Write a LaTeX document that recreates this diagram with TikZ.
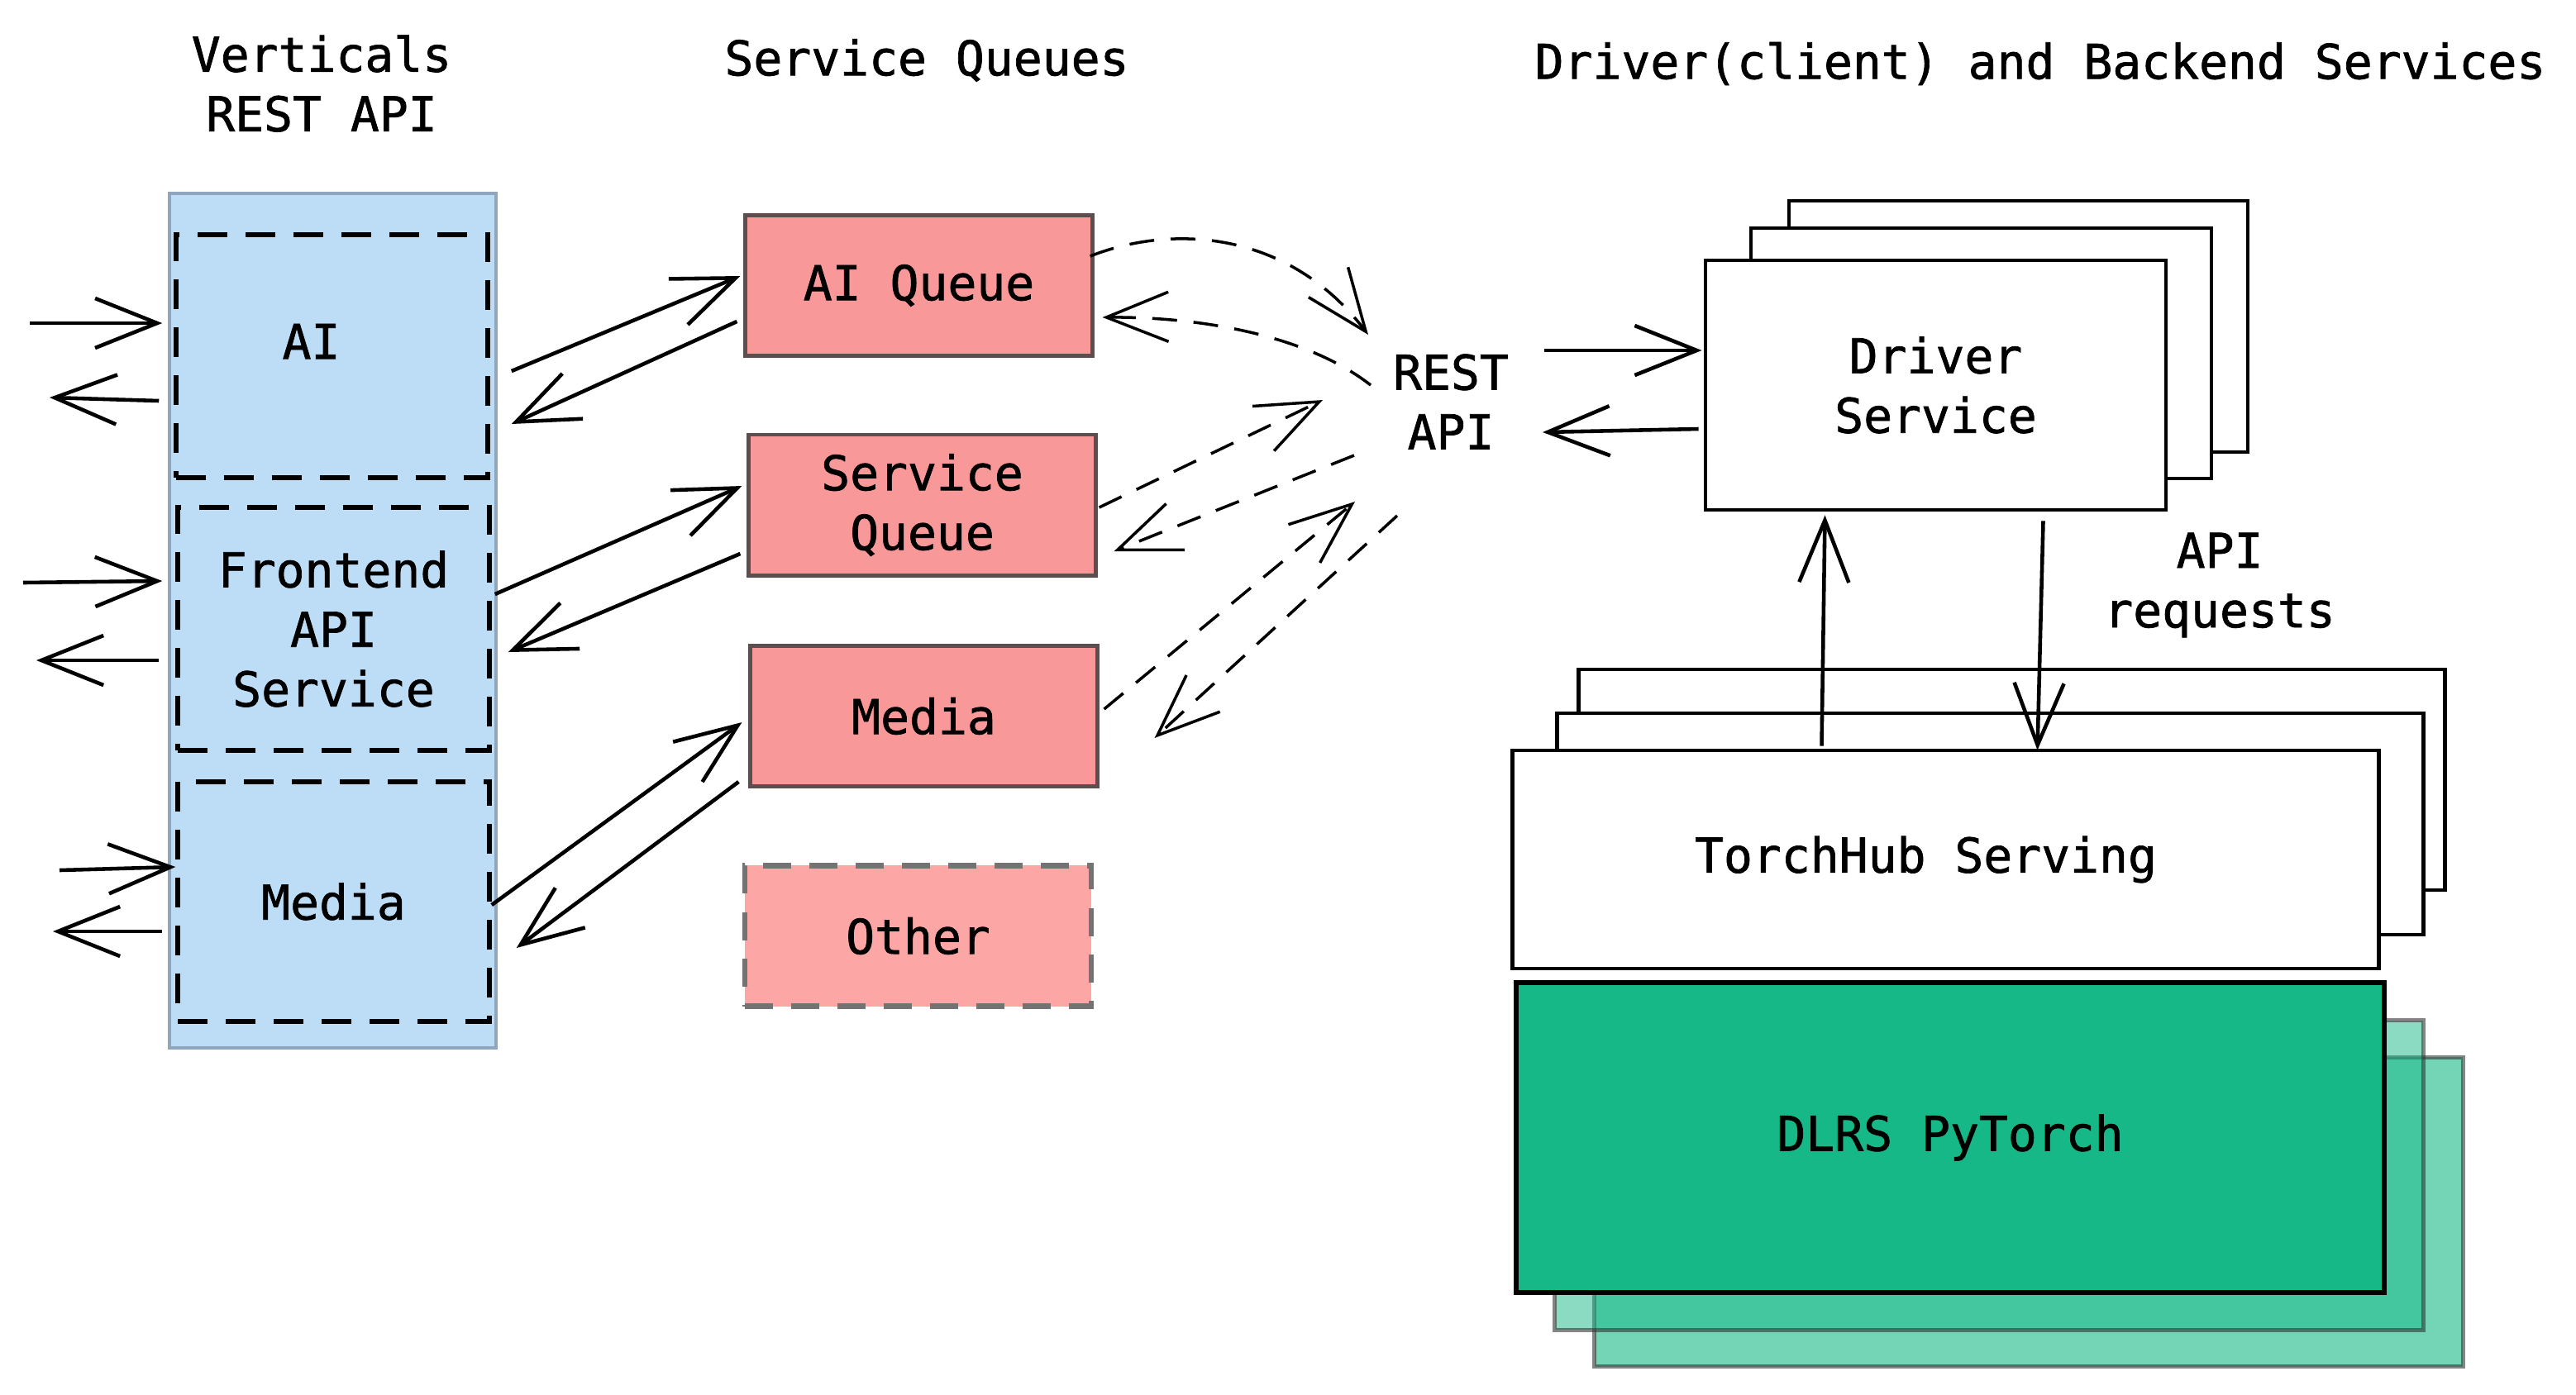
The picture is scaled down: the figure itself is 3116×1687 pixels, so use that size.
\documentclass[tikz,border=0pt]{standalone}
\usepackage{fontspec}
\setmonofont{DejaVu Sans Mono}[BoldFont={DejaVu Sans Mono}, BoldFeatures={FakeBold=1.2}]
\usetikzlibrary{arrows.meta}
\definecolor{vertblue}{HTML}{BDDCF6}
\definecolor{vertedge}{HTML}{8EA7BF}
\definecolor{queuered}{HTML}{F99898}
\definecolor{queueedge}{HTML}{5C4E4E}
\definecolor{otherred}{HTML}{FCA6A6}
\definecolor{dlrsgreen}{HTML}{15B886}
\def\Verticals{Verticals\\REST API}
\def\Queues{Service Queues}
\def\Backend{Driver(client) and Backend Services}
\def\Frontend{Frontend\\API\\Service}
\def\SvcQueue{Service\\Queue}
\def\Driver{Driver\\Service}
\def\Requests{API\\requests}
\def\Torch{TorchHub Serving\hspace*{0.48cm}}
\def\Dlrs{DLRS PyTorch}

\begin{document}
\begin{tikzpicture}[x=0.01cm, y=-0.01cm,
    every node/.style={font=\ttfamily\bfseries\fontsize{16.5}{20.5}\selectfont, align=center},
    panel/.style={draw=vertedge, fill=vertblue, line width=1.2pt, minimum width=3.95cm, minimum height=10.34cm},
    vertical/.style={draw, line width=1.5pt, dash pattern=on 0.36cm off 0.22cm, minimum width=3.77cm},
    queue/.style={draw=queueedge, fill=queuered, line width=1.4pt, minimum width=4.19cm, minimum height=1.7cm},
    other/.style={queue, draw=black!55, fill=otherred, line width=1.8pt, dash pattern=on 0.34cm off 0.22cm},
    stack/.style={draw, fill=white, line width=1.3pt},
    layer/.style={draw=black!80, fill=dlrsgreen, line width=1.4pt, minimum width=10.5cm, minimum height=3.74cm},
    barb/.style={line width=1.3pt, -{Straight Barb[length=0.75cm, width=0.6cm]}},
    rest/.style={barb, line width=1pt, dash pattern=on 0.3cm off 0.2cm}]
\useasboundingbox (0,0) rectangle (3116,1687);

\node (hvert) at (389,101) {\Verticals};
\node (hqueue) at (1121,73) {\Queues};
\node (hback) at (2468,77) {\Backend};

\node[panel] (panel) at (402.5,751) {};
\node[vertical, minimum height=2.94cm] (ai) at (401.5,431) {\raisebox{0.36cm}{AI}\hspace*{0.5cm}};
\node[vertical, minimum height=2.94cm] (fe) at (403.5,761) {\Frontend};
\node[vertical, minimum height=2.9cm] (media) at (403.5,1091) {Media};

\node[queue] (aiq) at (1111.5,345.5) {AI Queue};
\node[queue] (svq) at (1115.5,611) {\SvcQueue};
\node[queue] (mdq) at (1117.5,866.5) {Media};
\node[other] (oth) at (1110.5,1132.5) {Other};

\node (rest) at (1755,486) {REST\\API};

\coordinate (aiin) at (36,391);
\coordinate (aiout) at (60,481);
\coordinate (fein) at (28,705);
\coordinate (feout) at (44,799);
\coordinate (mdin) at (72,1053);
\coordinate (mdout) at (64,1127);
\coordinate (drvin) at (1868,424);
\coordinate (drvout) at (1866,523);

\draw[barb] (aiin) -- ([shift={(-14,-40)}]ai.west);
\draw[barb] ([shift={(-18,54)}]ai.west) -- (aiout);
\draw[barb] (fein) -- ([shift={(-16,-58)}]fe.west);
\draw[barb] ([shift={(-20,38)}]fe.west) -- (feout);
\draw[barb] (mdin) -- ([shift={(0,-42)}]media.west);
\draw[barb] ([shift={(-16,36)}]media.west) -- (mdout);

\draw[barb] ([shift={(26,18)}]ai.east) -- ([shift={(-4,-11.5)}]aiq.west);
\draw[barb] ([shift={(-8,43.5)}]aiq.west) -- ([shift={(26,82)}]ai.east);
\draw[barb] ([shift={(4,-42)}]fe.east) -- ([shift={(-6,-23)}]svq.west);
\draw[barb] ([shift={(-8,59)}]svq.west) -- ([shift={(20,28)}]fe.east);
\draw[barb] ([shift={(0,4)}]media.east) -- ([shift={(-8,7.5)}]mdq.west);
\draw[barb] ([shift={(-12,79.5)}]mdq.west) -- ([shift={(30,56)}]media.east);

\draw[rest] ([shift={(-5,-35.5)}]aiq.east) .. controls (1420,270) and (1560,280) .. ([shift={(-100,-81)}]rest.center);
\draw[rest] ([shift={(-97,-20)}]rest.center) .. controls (1580,405) and (1450,383) .. ([shift={(10,38.5)}]aiq.east);
\draw[rest] ([shift={(2,3)}]svq.east) -- ([shift={(-155,-2)}]rest.center);
\draw[rest] ([shift={(-117,65)}]rest.center) -- ([shift={(20,56)}]svq.east);
\draw[rest] ([shift={(6,-8.5)}]mdq.east) -- ([shift={(-116,121)}]rest.center);
\draw[rest] ([shift={(-65,138)}]rest.center) -- ([shift={(67,26.5)}]mdq.east);

\node[stack, minimum width=5.55cm, minimum height=3.04cm] (drv3) at (2441.5,395) {};
\node[stack, minimum width=5.57cm, minimum height=3.03cm] (drv2) at (2396.5,427.5) {};
\node[stack, minimum width=5.57cm, minimum height=3.02cm] (drv) at (2341.5,466) {\Driver};

\draw[barb] (drvin) -- ([shift={(-2,-42)}]drv.west);
\draw[barb] ([shift={(-6,53)}]drv.west) -- (drvout);

\node (req) at (2685,708) {\Requests};

\node[stack, minimum width=10.47cm, minimum height=2.67cm] (torch3) at (2433.5,943.5) {};
\node[stack, minimum width=10.47cm, minimum height=2.68cm] (torch2) at (2407.5,997) {};
\node[stack, minimum width=10.47cm, minimum height=2.64cm] (torch) at (2353.5,1040) {\Torch};

\draw[barb] ([shift={(-150,-3)}]torch.north) -- ([shift={(-134,4)}]drv.south);
\draw[barb] ([shift={(130,11)}]drv.south) -- ([shift={(111,2)}]torch.north);

\node[layer, fill opacity=0.6, draw opacity=0.6] (dlrs3) at (2454,1466.5) {};
\node[layer, fill opacity=0.5, draw opacity=0.6] (dlrs2) at (2406,1422) {};
\node[layer, draw=black, line width=1.7pt] (dlrs) at (2359,1376.5) {\Dlrs};
\end{tikzpicture}
\end{document}
